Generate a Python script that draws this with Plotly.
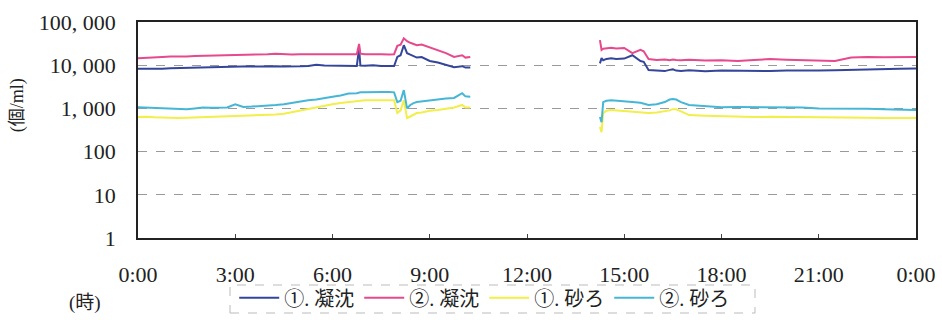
import plotly.graph_objects as go

# ---- data (hours, particles/ml) ----
t_a = [0.0, 0.25, 0.5, 0.75, 1.0, 1.25, 1.5, 1.75, 2.0, 2.25, 2.5, 2.75, 3.0, 3.25, 3.5, 3.75,
       4.0, 4.25, 4.5, 4.75, 5.0, 5.25, 5.5, 5.75, 6.0, 6.25, 6.5, 6.75, 6.82, 6.86, 7.0, 7.25,
       7.5, 7.75, 7.9, 8.0, 8.1, 8.2, 8.3, 8.4, 8.5, 8.6, 8.75, 9.0, 9.25, 9.5, 9.75, 10.0, 10.1, 10.25]
t_b = [14.25, 14.3, 14.35, 14.45, 14.6, 14.75, 15.0, 15.25, 15.5, 15.6, 15.75, 16.0, 16.25, 16.4,
       16.5, 16.6, 16.75, 17.0, 17.5, 18.0, 18.5, 19.0, 19.5, 20.0, 20.5, 21.0, 21.5, 22.0, 22.5,
       23.0, 23.5, 24.0]

sed1_a = [8300, 8200, 8400, 8300, 8500, 8600, 8700, 8800, 9000, 9100, 8900, 9200, 9300, 9200, 9400, 9300,
          9500, 9400, 9300, 9200, 9400, 9600, 10200, 9800, 9700, 9600, 9500, 9600, 25000, 9800, 9700, 10000,
          9600, 9500, 9600, 15500, 17000, 29000, 19000, 17500, 16000, 15000, 15500, 12500, 11500, 10200, 9000, 9500, 8800, 8900]
sed2_a = [14500, 15000, 15200, 15500, 15800, 15600, 16000, 16300, 16500, 16200, 16800, 17000, 17200, 17000, 17500, 17300,
          18000, 18500, 18000, 17800, 18000, 18200, 18500, 18000, 18000, 17800, 18200, 18000, 31000, 18500, 18000, 18200,
          18000, 17800, 18000, 28000, 30000, 42000, 36000, 33000, 31000, 29000, 30000, 26000, 22000, 19000, 15500, 17000, 15000, 15500]
sand1_a = [630, 640, 620, 610, 600, 600, 610, 620, 630, 630, 640, 640, 650, 660, 670, 680,
           700, 720, 750, 820, 900, 980, 1050, 1150, 1250, 1330, 1400, 1450, 1480, 1500, 1550, 1550,
           1560, 1550, 1550, 780, 900, 1550, 600, 650, 720, 780, 800, 880, 920, 980, 1050, 1200, 1050, 1050]
sand2_a = [1070, 1050, 1040, 1000, 1000, 950, 960, 1000, 1050, 1040, 1060, 1050, 1250, 1080, 1100, 1120,
           1150, 1200, 1250, 1350, 1450, 1550, 1600, 1700, 1850, 2000, 2200, 2250, 2300, 2350, 2350, 2400,
           2400, 2400, 2350, 1400, 1500, 2650, 1000, 1200, 1330, 1400, 1450, 1550, 1600, 1700, 1750, 2250, 1900, 1850]

sed1_b = [11000, 14600, 13000, 14000, 14500, 14000, 14200, 17000, 12500, 12000, 7750, 7400, 7300, 7800,
          8000, 7500, 7300, 7600, 7200, 7500, 7400, 7600, 7300, 7500, 7400, 7500, 7600, 7800, 8100,
          8200, 8300, 8400]
sed2_b = [38000, 22600, 24000, 25000, 25500, 24500, 25000, 19000, 22600, 21000, 13900, 13200, 13500, 13000,
          13500, 13200, 13000, 13300, 12800, 13000, 12500, 13200, 13900, 13400, 13200, 13000, 12500, 15000, 15500,
          15300, 15500, 15500]
sand1_b = [370, 280, 780, 880, 920, 900, 880, 850, 830, 800, 780, 800, 850, 900,
           960, 950, 850, 700, 680, 660, 650, 630, 640, 630, 620, 610, 615, 610, 605,
           600, 600, 600]
sand2_b = [630, 480, 1400, 1500, 1550, 1500, 1450, 1400, 1350, 1300, 1200, 1250, 1400, 1600,
           1650, 1600, 1400, 1200, 1150, 1070, 1080, 1070, 1060, 1070, 1050, 1000, 1000, 990, 980,
           960, 940, 920]

names = ["①. 凝沈", "②. 凝沈", "①. 砂ろ", "②. 砂ろ"]
colors = ["#34469a", "#e8488c", "#f2ee4a", "#46b6d6"]
series_a = [sed1_a, sed2_a, sand1_a, sand2_a]
series_b = [sed1_b, sed2_b, sand1_b, sand2_b]

y_tickvals = [1, 10, 100, 1000, 10000, 100000]
y_ticktext = ["1", "10", "100", "1, 000", "10, 000", "100, 000"]
x_tickvals = [0, 3, 6, 9, 12, 15, 18, 21, 24]
x_ticktext = ["0:00", "3:00", "6:00", "9:00", "12:00", "15:00", "18:00", "21:00", "0:00"]

FONT = "'Liberation Serif', 'DejaVu Serif', 'Noto Sans CJK JP', serif"

fig = go.Figure()
for name, col, ya, yb in zip(names, colors, series_a, series_b):
    fig.add_trace(go.Scatter(
        x=t_a + [None] + t_b,
        y=ya + [None] + yb,
        mode="lines", name=name,
        line=dict(color=col, width=2),
        connectgaps=False,
    ))

fig.update_layout(
    width=942, height=320,
    margin=dict(l=138, r=26, t=22, b=82, autoexpand=False),
    paper_bgcolor="white", plot_bgcolor="white",
    font=dict(family=FONT, size=19, color="#222"),
    showlegend=True,
    legend=dict(orientation="h", x=0.445, xanchor="center", y=-0.277, yanchor="middle",
                font=dict(family=FONT, size=20, color="#222"),
                bgcolor="rgba(0,0,0,0)", itemwidth=40, tracegroupgap=0),
)
fig.update_xaxes(
    range=[0, 24], tickvals=x_tickvals, ticktext=x_ticktext,
    showgrid=False, showline=True, mirror=True, linecolor="#222", linewidth=1.5,
    ticks="inside", ticklen=4, tickcolor="#444", zeroline=False,
    tickfont=dict(family=FONT, size=22), ticklabelstandoff=16,
)
fig.update_yaxes(
    type="log", range=[0, 5], tickvals=y_tickvals, ticktext=y_ticktext,
    showgrid=True, gridcolor="#9a9a9a", griddash="dash", gridwidth=1,
    showline=True, mirror=True, linecolor="#222", linewidth=1.5, ticks="",
    zeroline=False, tickfont=dict(family=FONT, size=22), ticklabelstandoff=16,
)
fig.add_annotation(text="(個/ml)", xref="paper", yref="paper", x=-0.154, y=0.616,
                   xanchor="center", yanchor="middle",
                   textangle=-90, showarrow=False, font=dict(family=FONT, size=18, color="#222"))
fig.add_annotation(text="(時)", xref="paper", yref="paper", x=-0.068, y=-0.30,
                   xanchor="center", yanchor="middle",
                   showarrow=False, font=dict(family=FONT, size=19, color="#222"))
fig.add_shape(type="rect", xref="paper", yref="paper",
              x0=(230 - 138) / 778, x1=(755 - 138) / 778, y0=-(313 - 238) / 216, y1=-(285 - 238) / 216,
              line=dict(color="#bbbbbb", width=1, dash="dash"))

fig.write_html("out.html")
